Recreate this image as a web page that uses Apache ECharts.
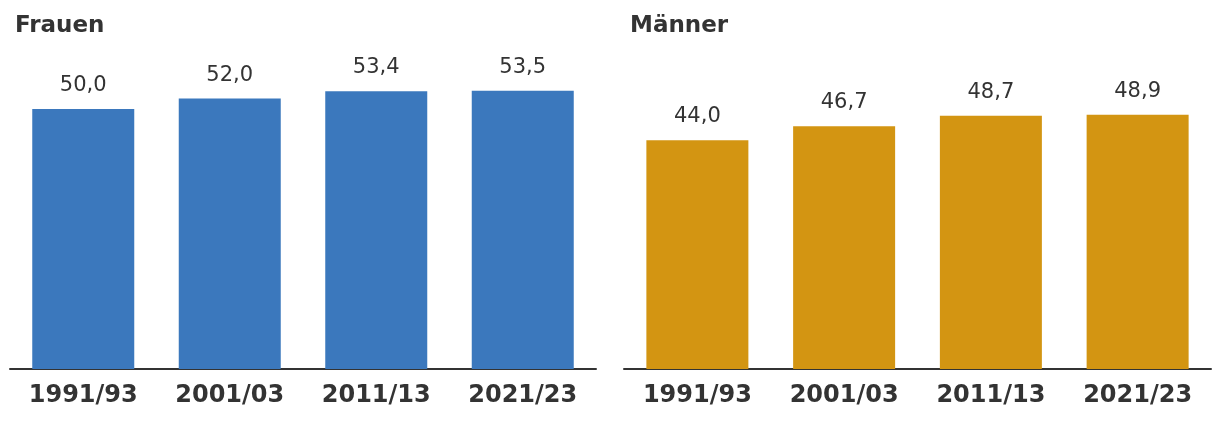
<!DOCTYPE html>
<html>
<head>
<meta charset="utf-8">
<script src="https://cdn.jsdelivr.net/npm/echarts@6/dist/echarts.min.js"></script>
<style>
html,body{margin:0;padding:0;background:#fff;}
#chart{width:1220px;height:422px;}
</style>
</head>
<body>
<div id="chart"></div>
<script>
var categories = ['1991/93', '2001/03', '2011/13', '2021/23'];
var frauenValues = [50.0, 52.0, 53.4, 53.5];
var maennerValues = [44.0, 46.7, 48.7, 48.9];
var panelTitles = ['Frauen', 'Männer'];

var FONT = "Verdana, 'DejaVu Sans', sans-serif";
var chart = echarts.init(document.getElementById('chart'), null, {renderer: 'canvas'});

function xAxis(idx) {
  return {
    type: 'category', gridIndex: idx, data: categories,
    axisLine: {lineStyle: {color: '#333', width: 2}},
    axisTick: {show: false},
    axisLabel: {fontFamily: FONT, fontWeight: 'bold', fontSize: 24, color: '#333', margin: 15}
  };
}
function yAxis(idx) {
  return {
    type: 'value', gridIndex: idx, min: 0, max: 60,
    show: false, splitLine: {show: false}
  };
}
function series(idx, data, color) {
  return {
    type: 'bar', xAxisIndex: idx, yAxisIndex: idx, data: data,
    barWidth: 102,
    itemStyle: {color: color},
    label: {
      show: true, position: 'top', distance: 13,
      fontFamily: FONT, fontSize: 21, color: '#333',
      formatter: function (p) { return p.value.toFixed(1).replace('.', ','); }
    },
    silent: true
  };
}

chart.setOption({
  animation: false,
  title: [
    {text: panelTitles[0], left: 10, top: 10, textStyle: {fontFamily: FONT, fontWeight: 'bold', fontSize: 23, color: '#333'}},
    {text: panelTitles[1], left: 625, top: 10, textStyle: {fontFamily: FONT, fontWeight: 'bold', fontSize: 23, color: '#333'}}
  ],
  grid: [
    {left: 10, width: 586, top: 57, height: 312},
    {left: 624, width: 587, top: 57, height: 312}
  ],
  xAxis: [xAxis(0), xAxis(1)],
  yAxis: [yAxis(0), yAxis(1)],
  series: [
    series(0, frauenValues, '#3b78bd'),
    series(1, maennerValues, '#d39512')
  ]
});
</script>
</body>
</html>
